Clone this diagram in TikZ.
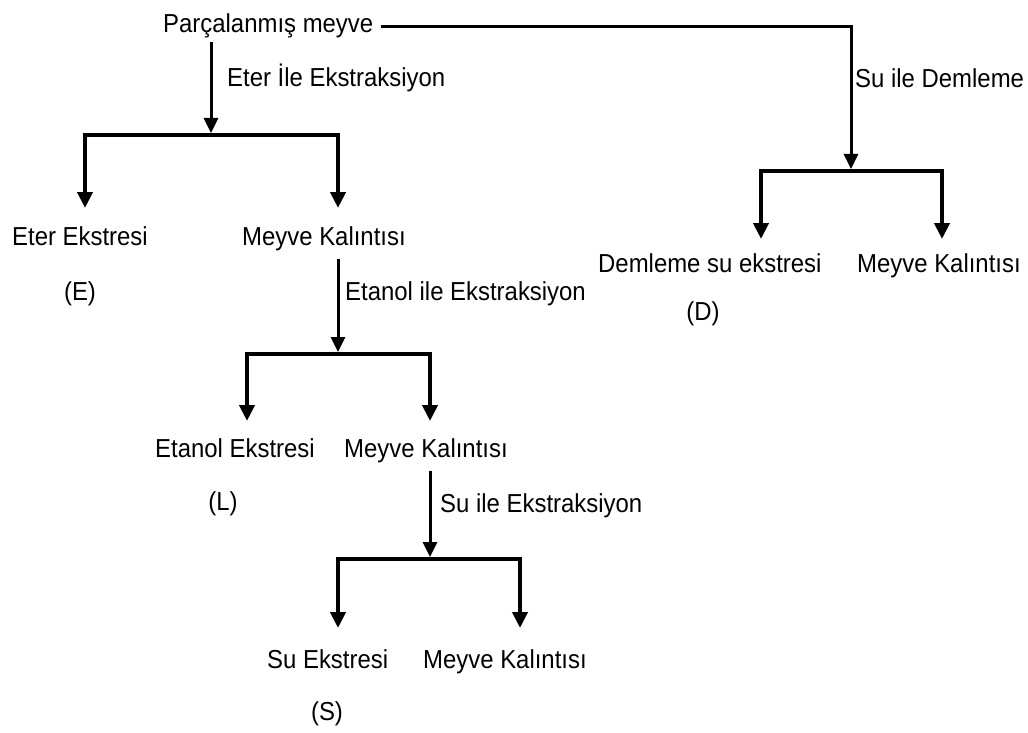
\documentclass[tikz,border=0pt]{standalone}
\usepackage{fontspec}
\setmainfont{Liberation Sans}[FakeStretch=0.92]
\usetikzlibrary{arrows.meta}
\begin{document}
\begin{tikzpicture}[x=1pt,y=-1pt,
  lbl/.style={font=\fontsize{26}{30}\selectfont, inner sep=0pt, anchor=base west},
  tag/.style={font=\fontsize{26}{30}\selectfont, inner sep=0pt, anchor=base},
  mainline/.style={line width=3pt},
  arr/.style={line width=3pt, -{Triangle[width=14pt,length=15pt]}},
  brarr/.style={line width=4pt, -{Triangle[width=15pt,length=16pt]}}]
\useasboundingbox[fill=white] (0,0) rectangle (1028,733);

% nodes
\node[lbl] (parc) at (163,33) {Parçalanmış meyve};
\node[lbl] (l1) at (227,87) {Eter İle Ekstraksiyon};
\node[lbl] (l4) at (855,88) {Su ile Demleme};
\node[lbl] (eter) at (12,245) {Eter Ekstresi};
\node[tag] (E) at (80,300) {(E)};
\node[lbl] (m1) at (242,245) {Meyve Kalıntısı};
\node[lbl] (l2) at (345,300) {Etanol ile Ekstraksiyon};
\node[lbl] (dem) at (598,272) {Demleme su ekstresi};
\node[lbl] (m4) at (857,272) {Meyve Kalıntısı};
\node[tag] (D) at (703,320) {(D)};
\node[lbl] (etan) at (155,457) {Etanol Ekstresi};
\node[tag] (L) at (223,510) {(L)};
\node[lbl] (m2) at (344,457) {Meyve Kalıntısı};
\node[lbl] (l3) at (440,512) {Su ile Ekstraksiyon};
\node[lbl] (su) at (267,668) {Su Ekstresi};
\node[tag] (S) at (327,720) {(S)};
\node[lbl] (m3) at (423,668) {Meyve Kalıntısı};

% junctions and arrow ends
\coordinate (j1) at (211,135);
\coordinate (t1a) at (85,208);
\coordinate (t1b) at (338,208);
\coordinate (j2) at (338,354);
\coordinate (t2a) at (247,421);
\coordinate (t2b) at (430,421);
\coordinate (j3) at (430,559);
\coordinate (t3a) at (338,628);
\coordinate (t3b) at (520,628);
\coordinate (j4) at (851,171);
\coordinate (t4a) at (761,239);
\coordinate (t4b) at (942,239);

% main stems
\draw[arr] ([yshift=-3pt]parc.south -| j1) -- ([yshift=2pt]j1);
\draw[mainline] ([xshift=8pt]parc.east) -| ([yshift=12pt]j4);
\draw[arr] ([yshift=12pt]j4) -- ([yshift=2pt]j4);
\draw[arr] ([yshift=-8pt]m1.south -| j2) -- ([yshift=2pt]j2);
\draw[arr] ([yshift=-8pt]m2.south -| j3) -- ([yshift=2pt]j3);

% branches
\draw[brarr] (j1) -| (t1a);
\draw[brarr] (j1) -| (t1b);
\draw[brarr] (j2) -| (t2a);
\draw[brarr] (j2) -| (t2b);
\draw[brarr] (j3) -| (t3a);
\draw[brarr] (j3) -| (t3b);
\draw[brarr] (j4) -| (t4a);
\draw[brarr] (j4) -| (t4b);
\end{tikzpicture}
\end{document}
